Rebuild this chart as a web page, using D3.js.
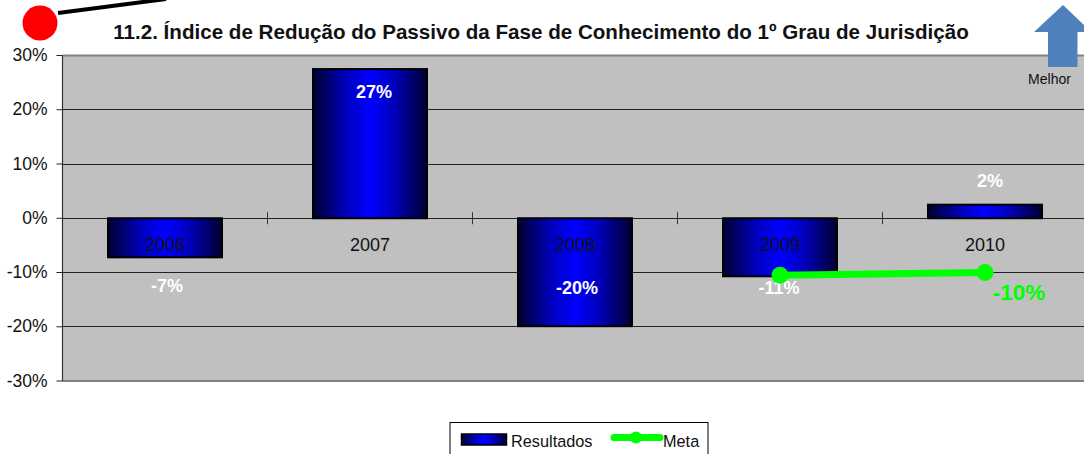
<!DOCTYPE html>
<html><head><meta charset="utf-8">
<script src="https://cdn.jsdelivr.net/npm/d3@7"></script>
<style>html,body{margin:0;padding:0;background:#fff;overflow:hidden}svg{display:block}text{font-family:"Liberation Sans",Arial,sans-serif}</style>
</head><body><div id="c"></div>
<script>
const categories=["2006","2007","2008","2009","2010"];
const resultados=[-7.2,27.5,-19.9,-10.7,2.5];
const resultadoLabels=["-7%","27%","-20%","-11%","2%"];
const metaYears=["2009","2010"];
const metaValues=[-10.5,-10];
const metaLabel="-10%";
const yTicks=[-30,-20,-10,0,10,20,30];
const labelOffsets=[35,29,-32,18,-18];
const labelShifts=[2,4,2,-1,5];

const W=1084,H=454,m={l:62.5,t:55.5,r:1087.5,b:381};
const svg=d3.select("#c").append("svg").attr("width",W).attr("height",H);
const defs=svg.append("defs");
const g=defs.append("linearGradient").attr("id","bar");
[[0,"#000030"],[.3,"#0000c0"],[.5,"#0000ff"],[.7,"#0000c0"],[1,"#000030"]].forEach(s=>g.append("stop").attr("offset",s[0]).attr("stop-color",s[1]));
const xs=d3.scalePoint().domain(categories).range([m.l+102.5,m.r-102.5]);
const y=d3.scaleLinear().domain([-30,30]).range([m.b,m.t]);

svg.append("rect").attr("x",m.l).attr("y",m.t).attr("width",m.r-m.l).attr("height",m.b-m.t).attr("fill","#c0c0c0");
svg.append("line").attr("x1",m.l).attr("x2",W).attr("y1",m.t).attr("y2",m.t).attr("stroke","#808080").attr("stroke-width",2);
svg.append("line").attr("x1",m.l).attr("x2",W).attr("y1",m.b).attr("y2",m.b).attr("stroke","#808080").attr("stroke-width",2);

const ya=svg.append("g").attr("transform",`translate(${m.l},0)`).call(d3.axisLeft(y).tickValues(yTicks).offset(0).tickSize(6).tickPadding(9).tickFormat(d=>d+"%"));
ya.select(".domain").attr("stroke","#333").attr("stroke-width",1.2).attr("d",`M0,${m.t}V${m.b}`);
ya.selectAll(".tick line").attr("stroke","#222");
ya.selectAll("text").attr("font-size",17.5).attr("fill","#111").style("font-family",'"Liberation Sans",Arial,sans-serif');
svg.append("g").selectAll("line").data(yTicks.filter(d=>d>-30&&d<30)).join("line")
 .attr("x1",m.l).attr("x2",W).attr("y1",d=>Math.floor(y(d))+.5).attr("y2",d=>Math.floor(y(d))+.5).attr("stroke","#222");

svg.append("g").selectAll("rect").data(categories).join("rect")
 .attr("x",d=>xs(d)-57).attr("width",114)
 .attr("y",(d,i)=>Math.min(y(0),y(resultados[i])))
 .attr("height",(d,i)=>Math.abs(y(resultados[i])-y(0)))
 .attr("fill","url(#bar)").attr("stroke","#000").attr("stroke-width",2);

svg.append("g").selectAll("line").data(categories.slice(0,4)).join("line")
 .attr("x1",d=>xs(d)+102.5).attr("x2",d=>xs(d)+102.5).attr("y1",y(0)-6).attr("y2",y(0)+6).attr("stroke","#333");

svg.append("g").selectAll("text").data(categories).join("text")
 .attr("x",d=>xs(d)).attr("y",y(0)+33).attr("text-anchor","middle").attr("font-size",18).attr("fill","#111").text(d=>d);

svg.append("g").selectAll("text").data(resultadoLabels).join("text")
 .attr("x",(d,i)=>xs(categories[i])+labelShifts[i])
 .attr("y",(d,i)=>y(resultados[i])+labelOffsets[i])
 .attr("text-anchor","middle").attr("font-size",18).attr("font-weight","bold").attr("fill","#fff").text(d=>d);

const line=d3.line().x(d=>xs(d[0])).y(d=>y(d[1]));
const meta=metaYears.map((d,i)=>[d,metaValues[i]]);
svg.append("path").attr("d",line(meta)).attr("fill","none").attr("stroke","#00ff00").attr("stroke-width",7);
svg.append("g").selectAll("circle").data(meta).join("circle").attr("cx",d=>xs(d[0])).attr("cy",d=>y(d[1])).attr("r",8.5).attr("fill","#00ff00");
svg.append("text").attr("x",xs("2010")+34).attr("y",y(-10)+27).attr("text-anchor","middle").attr("font-size",22.5).attr("font-weight","bold").attr("fill","#00ff00").text(metaLabel);

svg.append("text").attr("x",541).attr("y",39).attr("text-anchor","middle").attr("font-size",20.6).attr("font-weight","bold").attr("fill","#111").text("11.2. Índice de Redução do Passivo da Fase de Conhecimento do 1º Grau de Jurisdição");

svg.append("circle").attr("cx",40).attr("cy",23).attr("r",17.5).attr("fill","#ff0000");
svg.append("line").attr("x1",58).attr("y1",13).attr("x2",166).attr("y2",-1).attr("stroke","#000").attr("stroke-width",4);
svg.append("path").attr("d","M1034,32L1063,5L1084,25V32H1077.5V67H1048V32Z").attr("fill","#4f81bd");
svg.append("text").attr("x",1049.5).attr("y",84).attr("text-anchor","middle").attr("font-size",14).attr("fill","#111").text("Melhor");

svg.append("rect").attr("x",450).attr("y",422.5).attr("width",258).attr("height",40).attr("fill","#fff").attr("stroke","#000");
svg.append("rect").attr("x",461.5).attr("y",434).attr("width",45).attr("height",11).attr("fill","url(#bar)").attr("stroke","#000").attr("stroke-width",1.5);
svg.append("text").attr("x",511).attr("y",447).attr("font-size",16.3).attr("fill","#111").text("Resultados");
svg.append("line").attr("x1",614).attr("x2",660).attr("y1",437.5).attr("y2",437.5).attr("stroke","#00ff00").attr("stroke-width",7).attr("stroke-linecap","round");
svg.append("circle").attr("cx",636).attr("cy",437.5).attr("r",6).attr("fill","#00ff00");
svg.append("text").attr("x",663).attr("y",447).attr("font-size",16.3).attr("fill","#111").text("Meta");
</script></body></html>
